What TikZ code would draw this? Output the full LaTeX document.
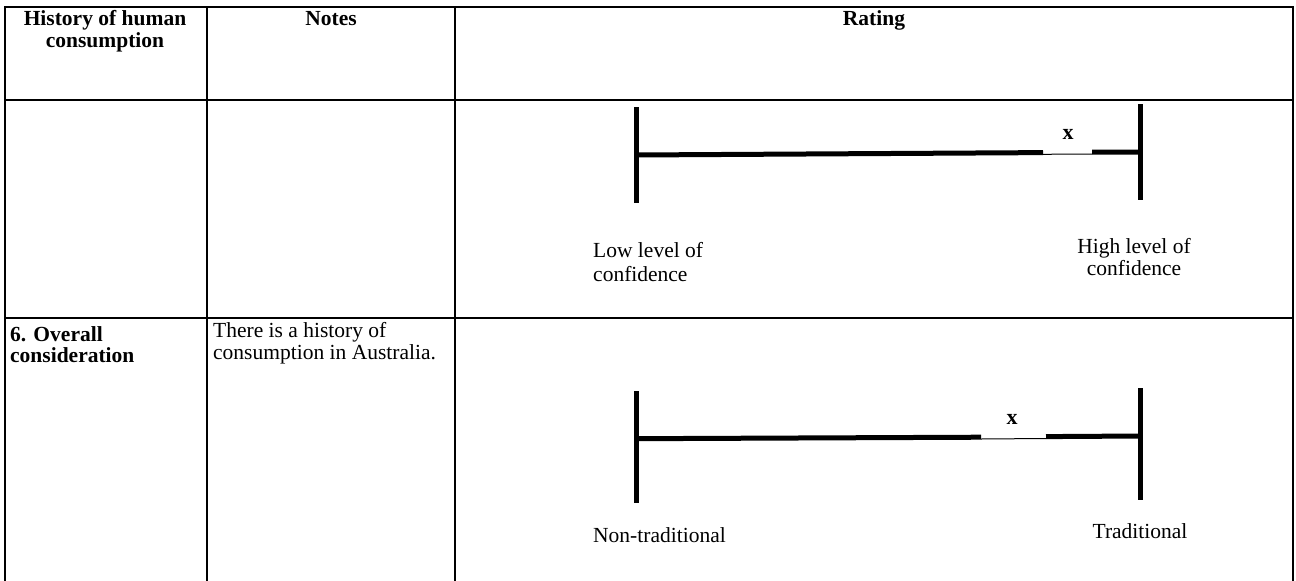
\documentclass[tikz,border=0pt]{standalone}
\usepackage{fontspec}
\setmainfont{Liberation Serif}
\begin{document}
\begin{tikzpicture}[x=1pt,y=-1pt,
  gridline/.style={line width=2pt, line cap=rect},
  scaleline/.style={line width=5pt},
  tickline/.style={line width=5pt},
  txt/.style={inner sep=0pt, font=\fontsize{21.5}{25}\selectfont},
  hdr/.style={inner sep=0pt, font=\fontsize{21.5}{25}\selectfont\bfseries},
  xmark/.style={inner sep=0pt, font=\fontsize{22}{25}\selectfont\bfseries},
]
\useasboundingbox (0,0) rectangle (1296,581);
\fill[white] (0,0) rectangle (1296,581);
% table grid
\draw[gridline] (5,581) -- (5,7) -- (1293,7) -- (1293,581);
\draw[gridline] (5,100) -- (1293,100);
\draw[gridline] (5,318) -- (1293,318);
\draw[gridline] (207,7) -- (207,581);
\draw[gridline] (455,7) -- (455,581);
% header
\node[hdr, anchor=base] (h1a) at (105,25) {History of human};
\node[hdr, anchor=base] (h1b) at (105,47) {consumption};
\node[hdr, anchor=base] (h2) at (331,25) {Notes};
\node[hdr, anchor=base] (h3) at (874,25) {Rating};
% row 1 scale
\coordinate (a1) at (636,155);
\coordinate (b1) at (1140,152);
\draw[tickline] (636,107) -- (636,203);
\draw[tickline] (1140,104) -- (1140,200);
\draw[scaleline] (a1) -- (1043,152.6);
\draw[scaleline] (1092,152.2) -- (b1);
\draw[line width=1pt] (1043,154.3) -- (1092,154);
\node[xmark, anchor=base] (x1) at (1068,139) {x};
\node[txt, anchor=base west] (l1a) at (593,257) {Low level of};
\node[txt, anchor=base west] (l1b) at (593,281) {confidence};
\node[txt, anchor=base] (r1a) at (1134,253) {High level of};
\node[txt, anchor=base] (r1b) at (1134,275) {confidence};
% row 2
\node[hdr, anchor=base west] (c1a) at (10,341) {6. Overall};
\node[hdr, anchor=base west] (c1b) at (10,362) {consideration};
\node[txt, anchor=base west] (n2a) at (213,337) {There is a history of};
\node[txt, anchor=base west] (n2b) at (213,359) {consumption in Australia.};
\coordinate (a2) at (636,438.7);
\coordinate (b2) at (1140,436);
\draw[tickline] (636,391) -- (636,503);
\draw[tickline] (1140,388) -- (1140,500);
\draw[scaleline] (a2) -- (981,437.2);
\draw[scaleline] (1046,436.6) -- (b2);
\draw[line width=1pt] (981,439) -- (1046,438.5);
\node[xmark, anchor=base] (x2) at (1012,424) {x};
\node[txt, anchor=base west] (l2) at (593,542) {Non-traditional};
\node[txt, anchor=base] (r2) at (1140,538) {Traditional};
\end{tikzpicture}
\end{document}
